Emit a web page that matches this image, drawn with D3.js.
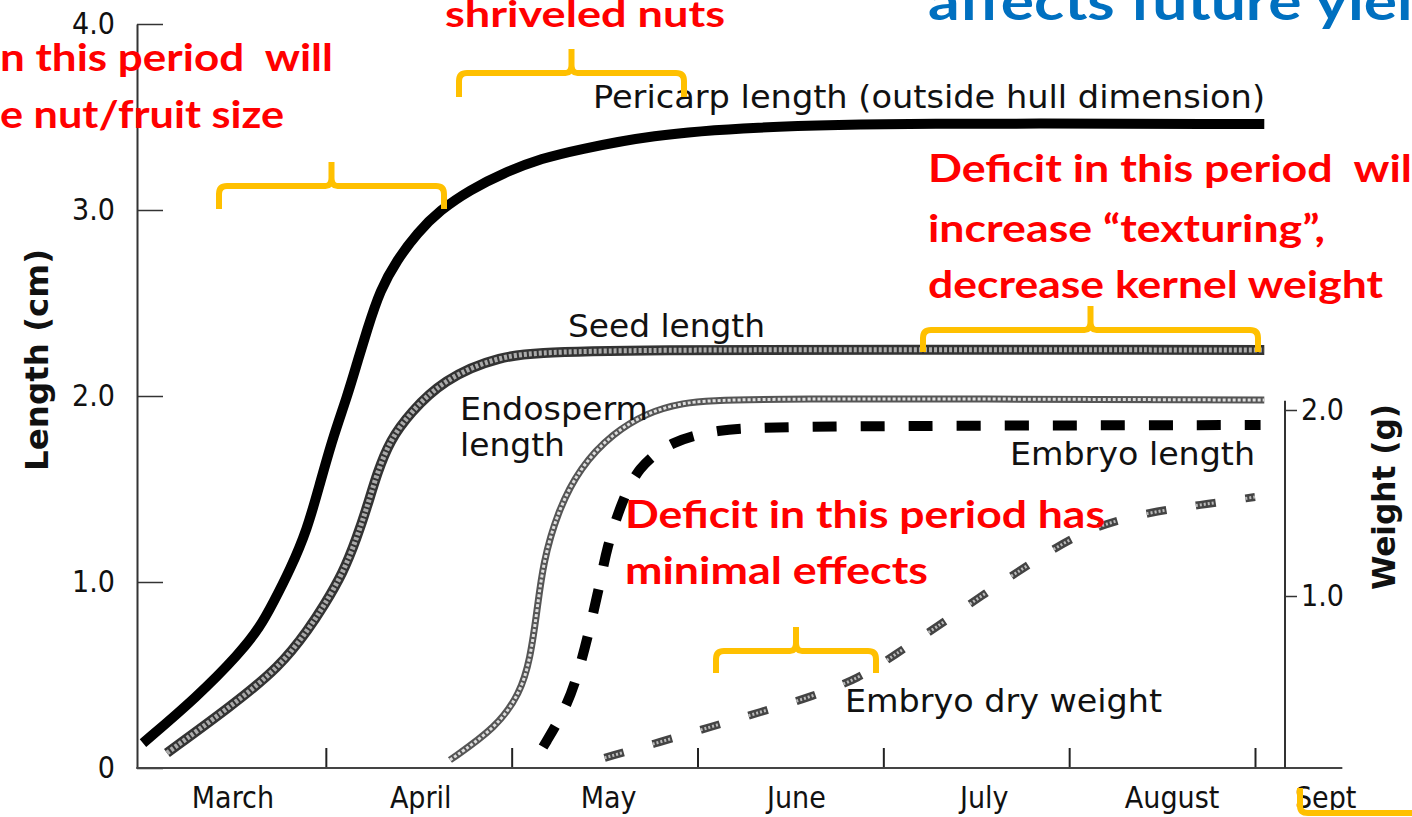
<html>
  <script src="https://d3js.org/d3.v7.min.js"></script>
  <head>
    <title>nut growth</title>
  </head>
  <body style="margin:0;background:#fff">
    <svg id="visual" width="1412" height="817"></svg>
    <script type="text/javascript">

    // months since 1 March, length in cm (left axis)
    var months = ["March", "April", "May", "June", "July", "August", "Sept"];
    var lengthTicks = [0, 1, 2, 3, 4];
    var weightTicks = [1, 2];

    var pericarp = [[0.016,0.134],[0.307,0.382],[0.538,0.618],[0.646,0.758],[0.716,0.887],[0.807,1.065],
                    [0.899,1.28],[0.969,1.532],[1.039,1.78],[1.114,1.995],[1.168,2.177],[1.222,2.355],
                    [1.292,2.57],[1.383,2.731],[1.491,2.876],[1.615,3.0],[1.776,3.108],[1.954,3.199],
                    [2.169,3.28],[2.352,3.323],[2.745,3.403],[3.283,3.446],[4.09,3.468],[6.05,3.462]];
    var seed = [[0.145,0.081],[0.484,0.328],[0.753,0.543],[0.915,0.758],[0.985,0.866],[1.093,1.048],
                [1.168,1.242],[1.222,1.403],[1.276,1.586],[1.346,1.763],[1.453,1.909],[1.631,2.086],
                [1.921,2.215],[2.277,2.253],[6.05,2.247]];
    var endosperm = [[1.668,0.043],[1.921,0.22],[2.045,0.403],[2.099,0.581],[2.137,0.849],[2.169,1.102],
                     [2.244,1.371],[2.368,1.618],[2.546,1.801],[2.729,1.909],[2.906,1.962],[3.175,1.99],[6.05,1.978]];
    var embryoLen = [[2.169,0.113],[2.298,0.328],[2.368,0.543],[2.422,0.758],[2.476,0.995],[2.513,1.188],
                     [2.583,1.403],[2.675,1.618],[2.869,1.763],[3.105,1.817],[3.375,1.839],[6.03,1.844]];
    // embryo dry weight in g (right axis)
    var embryoWt = [[2.50,0.13],[2.80,0.215],[3.07,0.296],[3.34,0.376],[3.61,0.457],[3.875,0.559],
                    [4.06,0.683],[4.28,0.828],[4.55,1.016],[4.82,1.194],[5.11,1.371],[5.44,1.452],
                    [5.70,1.489],[6.0,1.532]];

    var svg = d3.select("#visual");
    var chartFont = "'DejaVu Sans Condensed', 'Liberation Sans Narrow', sans-serif";
    var noteFont = "Lato, 'Open Sans', sans-serif";

    var x = d3.scaleLinear().domain([0, 6]).range([140, 1255]);
    var yL = d3.scaleLinear().domain([0, 4]).range([768, 24]);
    var yR = d3.scaleLinear().domain([0, 2]).range([782, 410]);

    // left axis
    var left = svg.append("g")
        .attr("transform", "translate(137,0)")
        .call(d3.axisLeft(yL).tickValues(lengthTicks).tickSizeInner(-26).tickSizeOuter(0).tickPadding(22)
              .tickFormat(function(d) { return d == 0 ? "0" : d3.format(".1f")(d); }));
    left.select(".domain").attr("stroke", "#333").attr("stroke-width", 2);
    left.selectAll(".tick line").attr("stroke", "#333").attr("stroke-width", 1.5);
    left.selectAll(".tick text").attr("font-family", chartFont).attr("font-size", 30).attr("fill", "#111");

    // bottom axis, month boundaries
    var bottom = svg.append("g")
        .attr("transform", "translate(0,768)")
        .call(d3.axisBottom(x).tickValues([1, 2, 3, 4, 5, 6]).tickSizeInner(-20).tickSizeOuter(0).tickFormat(""));
    bottom.select(".domain").remove();
    bottom.selectAll(".tick line").attr("stroke", "#222").attr("stroke-width", 2);
    svg.append("line")
        .attr("x1", x(-0.02)).attr("x2", x(6.47))
        .attr("y1", 768).attr("y2", 768)
        .attr("stroke", "#444").attr("stroke-width", 2);

    svg.selectAll(".month")
        .data(months)
        .enter()
        .append("text")
        .attr("class", "month")
        .attr("x", function(d, i) { return i < 6 ? x(i + 0.5) + i * 2 : x(6.38); })
        .attr("y", 808)
        .attr("text-anchor", "middle")
        .attr("font-family", chartFont)
        .attr("font-size", 30)
        .attr("fill", "#111")
        .text(function(d) { return d; });

    // right axis (weight)
    var right = svg.append("g")
        .attr("transform", "translate(1285,0)")
        .call(d3.axisRight(yR).tickValues(weightTicks).tickSizeInner(12).tickSizeOuter(0).tickPadding(4)
              .tickFormat(d3.format(".1f")));
    right.select(".domain").remove();
    right.selectAll(".tick line").attr("stroke", "#333").attr("stroke-width", 1.5);
    right.selectAll(".tick text").attr("font-family", chartFont).attr("font-size", 30).attr("fill", "#111");
    svg.append("line")
        .attr("x1", 1285).attr("x2", 1285)
        .attr("y1", yR(2.05)).attr("y2", 768)
        .attr("stroke", "#333").attr("stroke-width", 2);

    // axis titles
    svg.append("text")
        .attr("transform", "translate(48,360) rotate(-90)")
        .attr("text-anchor", "middle")
        .attr("font-family", chartFont).attr("font-weight", "bold")
        .attr("font-size", 32).attr("fill", "#111")
        .attr("textLength", 222).attr("lengthAdjust", "spacingAndGlyphs")
        .text("Length (cm)");
    svg.append("text")
        .attr("transform", "translate(1395,497) rotate(-90)")
        .attr("text-anchor", "middle")
        .attr("font-family", chartFont).attr("font-weight", "bold")
        .attr("font-size", 32).attr("fill", "#111")
        .attr("textLength", 186).attr("lengthAdjust", "spacingAndGlyphs")
        .text("Weight (g)");

    var lineL = d3.line()
        .x(function(d) { return x(d[0]); })
        .y(function(d) { return yL(d[1]); })
        .curve(d3.curveBasis);
    var lineR = d3.line()
        .x(function(d) { return x(d[0]); })
        .y(function(d) { return yR(d[1]); })
        .curve(d3.curveBasis);

    // growth curves
    svg.append("path").datum(pericarp).attr("d", lineL)
        .attr("fill", "none").attr("stroke", "#000").attr("stroke-width", 10);

    svg.append("path").datum(seed).attr("d", lineL)
        .attr("fill", "none").attr("stroke", "#333").attr("stroke-width", 10);
    svg.append("path").datum(seed).attr("d", lineL)
        .attr("fill", "none").attr("stroke", "#aaa").attr("stroke-width", 5).attr("stroke-dasharray", "3,2");

    svg.append("path").datum(endosperm).attr("d", lineL)
        .attr("fill", "none").attr("stroke", "#555").attr("stroke-width", 7);
    svg.append("path").datum(endosperm).attr("d", lineL)
        .attr("fill", "none").attr("stroke", "#ddd").attr("stroke-width", 3).attr("stroke-dasharray", "3,2");

    svg.append("path").datum(embryoLen).attr("d", lineL)
        .attr("fill", "none").attr("stroke", "#000").attr("stroke-width", 10)
        .attr("stroke-dasharray", "24,24");

    svg.append("path").datum(embryoWt).attr("d", lineR)
        .attr("fill", "none").attr("stroke", "#444").attr("stroke-width", 8)
        .attr("stroke-dasharray", "20,30");
    svg.append("path").datum(embryoWt).attr("d", lineR)
        .attr("fill", "none").attr("stroke", "#bbb").attr("stroke-width", 3)
        .attr("stroke-dasharray", "2,2,2,2,2,2,2,2,2,32");

    // curve labels
    function label(txt, x0, y0, w) {
        svg.append("text")
            .attr("x", x0).attr("y", y0)
            .attr("font-family", chartFont).attr("font-size", 32).attr("fill", "#111")
            .attr("textLength", w).attr("lengthAdjust", "spacingAndGlyphs")
            .text(txt);
    }
    label("Pericarp length (outside hull dimension)", 593, 108, 672);
    label("Seed length", 568, 337, 197);
    label("Endosperm", 460, 420, 188);
    label("length", 460, 456, 105);
    label("Embryo length", 1010, 465, 245);
    label("Embryo dry weight", 845, 712, 317);

    // slide annotations
    function note(txt, x0, y0, w, size, color) {
        svg.append("text")
            .attr("x", x0).attr("y", y0)
            .attr("font-family", noteFont).attr("font-weight", "bold")
            .attr("font-size", size).attr("fill", color)
            .style("white-space", "pre")
            .attr("textLength", w).attr("lengthAdjust", "spacingAndGlyphs")
            .text(txt);
    }
    note("affects future yield", 928, 20, 520, 52, "#0070C0");
    note("shriveled nuts", 445, 27, 280, 36, "#ff0000");
    note("n this period  will", 0, 71, 333, 38, "#ff0000");
    note("e nut/fruit size", 0, 128, 284, 38, "#ff0000");
    note("Deficit in this period  wil", 928, 182, 484, 38, "#ff0000");
    note("increase \u201ctexturing\u201d,", 928, 242, 397, 38, "#ff0000");
    note("decrease kernel weight", 928, 298, 455, 38, "#ff0000");
    note("Deficit in this period has", 625, 528, 480, 38, "#ff0000");
    note("minimal effects", 625, 584, 303, 38, "#ff0000");

    // yellow braces
    function brace(x0, x1, top, depth, notch) {
        var xm = (x0 + x1) / 2;
        var p = "M" + x0 + "," + (top + depth) +
                "L" + x0 + "," + (top + 8) +
                "Q" + x0 + "," + top + " " + (x0 + 8) + "," + top +
                "L" + (xm - 6) + "," + top +
                "Q" + xm + "," + top + " " + xm + "," + (top - 8) +
                "L" + xm + "," + (top - notch) +
                "M" + xm + "," + (top - 8) +
                "Q" + xm + "," + top + " " + (xm + 6) + "," + top +
                "L" + (x1 - 8) + "," + top +
                "Q" + x1 + "," + top + " " + x1 + "," + (top + 8) +
                "L" + x1 + "," + (top + depth);
        svg.append("path").attr("d", p)
            .attr("fill", "none").attr("stroke", "#FFC000").attr("stroke-width", 6);
    }
    brace(219, 444, 186, 23, 24);
    brace(459, 684, 73, 24, 24);
    brace(923, 1258, 330, 22, 24);
    brace(716, 876, 651, 22, 24);
    svg.append("path")
        .attr("d", "M1300,788 L1300,806 Q1300,813 1308,813 L1412,813")
        .attr("fill", "none").attr("stroke", "#FFC000").attr("stroke-width", 6);

    </script>
  </body>
</html>
